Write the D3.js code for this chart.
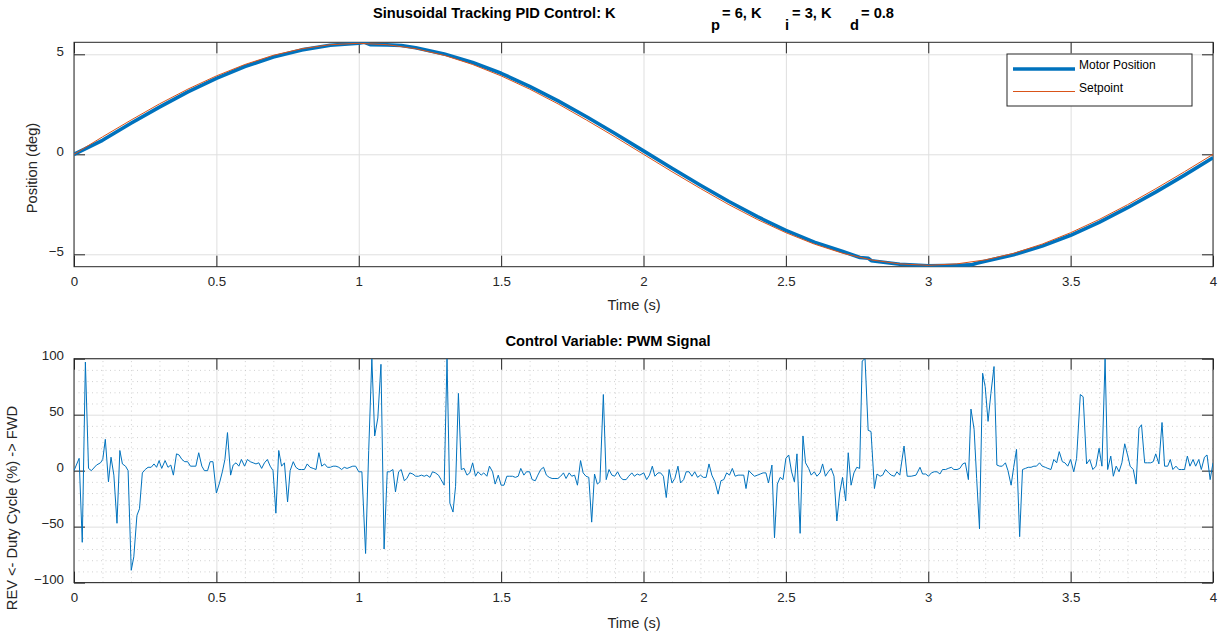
<!DOCTYPE html>
<html>
<head>
<meta charset="utf-8">
<script src="https://cdn.jsdelivr.net/npm/d3@7"></script>
<style>
  body { margin: 0; background: #fff; }
  svg { font-family: "Liberation Sans", Arial, Helvetica, sans-serif; }
</style>
</head>
<body>
<svg id="chart" width="1225" height="636"></svg>
<script>
// tick values / labels
const timeTicks = [0, 0.5, 1, 1.5, 2, 2.5, 3, 3.5, 4];
const timeTickLabels = ["0", "0.5", "1", "1.5", "2", "2.5", "3", "3.5", "4"];
const posTicks = [-5, 0, 5];
const dutyTicks = [-100, -50, 0, 50, 100];
const timeMinor = [0.1, 0.2, 0.3, 0.4, 0.6, 0.7, 0.8, 0.9, 1.1, 1.2, 1.3, 1.4, 1.6, 1.7, 1.8, 1.9,
  2.1, 2.2, 2.3, 2.4, 2.6, 2.7, 2.8, 2.9, 3.1, 3.2, 3.3, 3.4, 3.6, 3.7, 3.8, 3.9];
const dutyMinor = [-90, -80, -70, -60, -40, -30, -20, -10, 10, 20, 30, 40, 60, 70, 80, 90];

// setpoint (deg)
const setpointTime = [0, 0.1, 0.2, 0.3, 0.4, 0.5, 0.6, 0.7, 0.8, 0.9, 1.0, 1.1, 1.2, 1.3, 1.4, 1.5, 1.6, 1.7, 1.8, 1.9,
  2.0, 2.1, 2.2, 2.3, 2.4, 2.5, 2.6, 2.7, 2.8, 2.9, 3.0, 3.1, 3.2, 3.3, 3.4, 3.5, 3.6, 3.7, 3.8, 3.9, 4.0];
const setpointDeg = [0, 0.87, 1.71, 2.52, 3.26, 3.92, 4.49, 4.95, 5.28, 5.48, 5.55, 5.48, 5.28, 4.95, 4.49, 3.92, 3.26, 2.52, 1.71, 0.87,
  0, -0.87, -1.71, -2.52, -3.26, -3.92, -4.49, -4.95, -5.28, -5.48, -5.55, -5.48, -5.28, -4.95, -4.49, -3.92, -3.26, -2.52, -1.71, -0.87, 0];

// measured motor position (deg)
const motorTime = [0, 0.1, 0.2, 0.3, 0.4, 0.5, 0.6, 0.7, 0.8, 0.9, 1.0, 1.02, 1.04, 1.1, 1.15, 1.2, 1.3, 1.4, 1.5, 1.6, 1.7, 1.8, 1.9,
  2.0, 2.1, 2.2, 2.3, 2.4, 2.5, 2.6, 2.7, 2.76, 2.79, 2.8, 2.9, 3.0, 3.1, 3.15, 3.17, 3.2, 3.3, 3.4, 3.5, 3.6, 3.7, 3.8, 3.9, 4.0];
const motorDeg = [0, 0.70, 1.55, 2.36, 3.12, 3.80, 4.39, 4.86, 5.22, 5.45, 5.55, 5.60, 5.48, 5.47, 5.44, 5.33, 5.02, 4.59, 4.05, 3.40, 2.67, 1.88, 1.04,
  0.17, -0.70, -1.55, -2.36, -3.12, -3.80, -4.39, -4.86, -5.16, -5.20, -5.32, -5.50, -5.57, -5.55, -5.53, -5.45, -5.35, -5.02, -4.59, -4.05, -3.40, -2.67, -1.88, -1.04, -0.17];

// PWM duty cycle (%)
const pwmTime = [
  0, 0.018, 0.029, 0.040, 0.051, 0.061, 0.079, 0.093, 0.101, 0.110, 0.121, 0.130, 0.140, 0.151, 0.161, 0.170, 0.181, 0.190,
  0.201, 0.210, 0.221, 0.230, 0.240, 0.250, 0.260, 0.271, 0.281, 0.290, 0.299, 0.308, 0.320, 0.330, 0.340, 0.349, 0.360, 0.369,
  0.379, 0.389, 0.399, 0.409, 0.418, 0.428, 0.438, 0.449, 0.458, 0.469, 0.478, 0.488, 0.500, 0.511, 0.521, 0.530, 0.539, 0.550,
  0.559, 0.569, 0.579, 0.588, 0.599, 0.609, 0.619, 0.629, 0.639, 0.649, 0.659, 0.669, 0.679, 0.689, 0.699, 0.709, 0.719, 0.729,
  0.739, 0.750, 0.759, 0.770, 0.779, 0.790, 0.799, 0.809, 0.819, 0.829, 0.840, 0.850, 0.860, 0.870, 0.880, 0.890, 0.900, 0.910,
  0.920, 0.930, 0.940, 0.949, 0.959, 0.969, 0.979, 0.989,
  1.000, 1.011, 1.024, 1.035, 1.046, 1.056, 1.067, 1.078, 1.089, 1.100, 1.108, 1.120, 1.129, 1.140, 1.149, 1.160, 1.169, 1.179,
  1.190, 1.200, 1.210, 1.220, 1.230, 1.239, 1.250, 1.259, 1.269, 1.280, 1.289, 1.300, 1.310, 1.320, 1.331, 1.340, 1.350, 1.360,
  1.370, 1.380, 1.390, 1.400, 1.410, 1.419, 1.430, 1.439, 1.450, 1.459, 1.470, 1.479, 1.490, 1.500, 1.510, 1.520, 1.530, 1.540,
  1.550, 1.560, 1.569, 1.580, 1.589, 1.600, 1.609, 1.620, 1.629, 1.639, 1.649, 1.659, 1.669, 1.679, 1.689, 1.699, 1.709, 1.719,
  1.728, 1.739, 1.748, 1.758, 1.768, 1.779, 1.788, 1.798, 1.808, 1.818, 1.828, 1.838, 1.847, 1.859, 1.869, 1.879, 1.889, 1.899,
  1.909, 1.919, 1.928, 1.939, 1.948, 1.959, 1.968, 1.978, 1.987,
  2.001, 2.011, 2.021, 2.031, 2.040, 2.051, 2.060, 2.070, 2.080, 2.090, 2.100, 2.110, 2.121, 2.130, 2.141, 2.150, 2.160, 2.170,
  2.180, 2.190, 2.200, 2.210, 2.220, 2.230, 2.240, 2.251, 2.262, 2.272, 2.282, 2.292, 2.302, 2.312, 2.322, 2.332, 2.342, 2.352,
  2.360, 2.370, 2.381, 2.390, 2.401, 2.410, 2.420, 2.430, 2.439, 2.451, 2.460, 2.470, 2.480, 2.490, 2.500, 2.510, 2.520, 2.530,
  2.539, 2.550, 2.560, 2.569, 2.580, 2.589, 2.600, 2.609, 2.620, 2.629, 2.639, 2.649, 2.659, 2.669, 2.679, 2.689, 2.699, 2.710,
  2.719, 2.729, 2.739, 2.749, 2.759, 2.768, 2.778, 2.789, 2.799, 2.811, 2.820, 2.831, 2.840, 2.850, 2.861, 2.870, 2.881, 2.890,
  2.900,
  2.915, 2.926, 2.940, 2.957, 2.971, 2.980, 2.991, 3.001, 3.011, 3.021, 3.031, 3.041, 3.050, 3.061, 3.070, 3.081, 3.090, 3.101,
  3.111, 3.121, 3.130, 3.141, 3.150, 3.161, 3.170, 3.180, 3.191, 3.200, 3.210, 3.220, 3.231, 3.241, 3.251, 3.260, 3.271, 3.280,
  3.291, 3.300, 3.310, 3.321, 3.331, 3.341, 3.351, 3.361, 3.371, 3.380, 3.391, 3.400, 3.411, 3.420, 3.431, 3.441, 3.451, 3.460,
  3.471, 3.480, 3.490, 3.500, 3.511, 3.521, 3.534, 3.544, 3.556, 3.567, 3.578, 3.589, 3.600, 3.610, 3.621, 3.630, 3.641, 3.650,
  3.660, 3.670, 3.680, 3.690, 3.700, 3.709, 3.720, 3.730, 3.740, 3.749, 3.760, 3.770, 3.781, 3.790, 3.799, 3.810, 3.821, 3.830,
  3.841, 3.850, 3.859, 3.870, 3.880, 3.890, 3.900, 3.910, 3.919, 3.930, 3.939, 3.950, 3.959, 3.970, 3.979, 3.990, 4.000];
const pwmDuty = [
  0, 11, -64, 97, 2, 0, 5, 7, 10, 28, -10, 12, -4, -47, 18, 6, 4, 0,
  -89, -77, -40, -34, -2, 1, 3, 3, 6, 3, 9, 2, 9, 3, 5, -4, 15, 14,
  10, 8, 8, 4, 4, 4, 16, 4, 0, 0, 8, 8, -20, -11, -1, 10, 34, -4,
  5, 7, 4, 10, 4, 10, 8, 7, 6, 7, 2, 7, 10, 4, 0, -38, 18, 4,
  7, -28, 0, 8, 3, 1, 1, 1, 6, 3, 2, 1, 16, 4, 6, 3, 3, 4,
  4, 3, 1, 3, 2, 3, 4, 4,
  -1, -1, -74, 18, 100, 31, 47, 95, -70, -1, -1, 1, -19, -1, 1, -9, -7, -2,
  -3, -5, -5, -4, -5, -4, -6, -1, -2, -4, -8, -13, 100, -29, -37, -14, 69, 1,
  2, -4, -2, 7, -5, -1, -4, -2, -5, 4, -1, -12, -4, -13, -13, -5, -5, -5,
  -6, -5, 2, -4, -1, -1, -8, -9, -4, 1, 3, -4, -6, -7, -7, -7, -5, -2,
  -7, -2, -5, -4, -13, 9, -2, -5, -6, -46, -3, -12, -10, 68, -8, 1, -4, -5,
  -1, -6, -8, -8, -5, -2, -5, -3, -4,
  -2, -8, -4, 4, -5, -2, -2, -5, -24, 1, -11, -7, 4, -11, -8, -1, -1, -5,
  -1, -6, -4, -6, -6, 6, -4, -10, -21, -9, -8, -2, -4, 2, -5, -4, -4, -4,
  -16, 0, -3, -5, -4, -3, -2, -2, -11, 5, -60, -12, -6, -8, 11, 14, -1, -10,
  15, -56, 31, 7, 2, -4, -1, -5, -2, 6, -5, -1, 2, -5, -45, -20, -6, -27,
  16, -13, -2, 3, 2, 98, 100, 36, 35, -16, -3, -5, -4, 1, -2, -4, -5, -1,
  -4,
  22, -5, -5, -4, 3, -3, -3, -5, -2, -1, -1, -3, 1, 1, 2, 3, 1, 1,
  2, 6, 7, -8, 55, 37, -7, -52, 87, 75, 44, 69, 93, 5, 4, 4, 7, 0,
  -13, 3, 19, -59, 1, 2, 3, 3, 4, 4, 7, 4, 3, 2, 1, 10, 7, 17,
  8, 7, 4, 10, -1, 11, 68, 66, 6, 10, 1, 4, 20, 4, 100, 1, 13, -5,
  4, -1, 7, 24, 14, 4, 1, -12, 38, 41, 7, 7, 7, 8, 15, 6, 43, 4,
  4, 10, 1, 4, 1, 1, 1, 13, 4, 10, 4, 10, 1, 12, 14, -8, 7];

const seriesNames = ["Motor Position", "Setpoint"];
const blue = "#0072BD", orange = "#D95319", axisCol = "#262626";

const svg = d3.select("#chart");
svg.append("rect").attr("width", 1225).attr("height", 636).attr("fill", "#fff");

const left = 74, right = 1213;
const top1 = 42.3, bot1 = 266.7, top2 = 358.7, bot2 = 582.6;

const x = d3.scaleLinear().domain([0, 4]).range([left, right]);
const yPos = d3.scaleLinear().domain([-5.62, 5.6]).range([bot1, top1]);
const yDuty = d3.scaleLinear().domain([-100, 100]).range([bot2, top2]);

const defs = svg.append("defs");
defs.append("clipPath").attr("id", "clip1").append("rect")
  .attr("x", left).attr("y", top1).attr("width", right - left).attr("height", bot1 - top1);
defs.append("clipPath").attr("id", "clip2").append("rect")
  .attr("x", left).attr("y", top2).attr("width", right - left).attr("height", bot2 - top2);

function gridLayer(yScale, yTicks, top, bot, minor) {
  const g = svg.append("g");
  if (minor) {
    g.append("g").attr("transform", `translate(0,${bot})`)
      .call(d3.axisBottom(x).tickValues(timeMinor).tickSize(-(bot - top)).tickFormat(""))
      .call(s => s.select(".domain").remove())
      .selectAll("line").attr("stroke", "#c4c4c4").attr("stroke-dasharray", "1,3.5").attr("stroke-width", 0.8);
    g.append("g").attr("transform", `translate(${left},0)`)
      .call(d3.axisLeft(yScale).tickValues(dutyMinor).tickSize(-(right - left)).tickFormat(""))
      .call(s => s.select(".domain").remove())
      .selectAll("line").attr("stroke", "#c4c4c4").attr("stroke-dasharray", "1,3.5").attr("stroke-width", 0.8);
  }
  g.append("g").attr("transform", `translate(0,${bot})`)
    .call(d3.axisBottom(x).tickValues(timeTicks).tickSize(-(bot - top)).tickFormat(""))
    .call(s => s.select(".domain").remove())
    .selectAll("line").attr("stroke", "#dfdfdf");
  g.append("g").attr("transform", `translate(${left},0)`)
    .call(d3.axisLeft(yScale).tickValues(yTicks).tickSize(-(right - left)).tickFormat(""))
    .call(s => s.select(".domain").remove())
    .selectAll("line").attr("stroke", "#dfdfdf");
}

function axesFrame(yScale, yTicks, top, bot) {
  const tl = 11;
  const styleText = s => s.selectAll("text").attr("fill", axisCol).attr("font-size", "13.3px")
    .attr("font-family", "'Liberation Sans', Arial, Helvetica, sans-serif");
  svg.append("g").attr("transform", `translate(0,${bot})`)
    .call(d3.axisBottom(x).tickValues(timeTicks).tickSize(-tl).tickPadding(10)
      .tickFormat((d, i) => timeTickLabels[i]))
    .call(s => s.select(".domain").remove())
    .call(s => s.selectAll("line").attr("stroke", axisCol))
    .call(styleText);
  svg.append("g").attr("transform", `translate(0,${top})`)
    .call(d3.axisTop(x).tickValues(timeTicks).tickSize(-tl).tickFormat(""))
    .call(s => s.select(".domain").remove())
    .selectAll("line").attr("stroke", axisCol);
  svg.append("g").attr("transform", `translate(${left},0)`)
    .call(d3.axisLeft(yScale).tickValues(yTicks).tickSize(-tl).tickPadding(10).tickFormat(d3.format("d")))
    .call(s => s.select(".domain").remove())
    .call(s => s.selectAll("line").attr("stroke", axisCol))
    .call(styleText)
    .call(s => s.selectAll("text").attr("dy", "0.06em"));
  svg.append("g").attr("transform", `translate(${right},0)`)
    .call(d3.axisRight(yScale).tickValues(yTicks).tickSize(-tl).tickFormat(""))
    .call(s => s.select(".domain").remove())
    .selectAll("line").attr("stroke", axisCol);
  svg.append("rect").attr("x", left).attr("y", top).attr("width", right - left).attr("height", bot - top)
    .attr("fill", "none").attr("stroke", axisCol).attr("stroke-width", 1);
}

// ---- top: position tracking ----
gridLayer(yPos, posTicks, top1, bot1, false);
axesFrame(yPos, posTicks, top1, bot1);

const posLine = d3.line().x(d => x(d[0])).y(d => yPos(d[1]));
const plot1 = svg.append("g").attr("clip-path", "url(#clip1)");
plot1.append("path").datum(d3.zip(motorTime, motorDeg)).attr("d", posLine)
  .attr("fill", "none").attr("stroke", blue).attr("stroke-width", 3.6).attr("stroke-linejoin", "round");
plot1.append("path").datum(d3.zip(setpointTime, setpointDeg)).attr("d", posLine)
  .attr("fill", "none").attr("stroke", orange).attr("stroke-width", 1);

// legend
const lg = svg.append("g");
lg.append("rect").attr("x", 1007).attr("y", 54).attr("width", 185).attr("height", 52)
  .attr("fill", "#fff").attr("stroke", axisCol).attr("stroke-width", 1);
const legY = [69, 91.5], legText = [68.5, 92];
seriesNames.forEach((name, i) => {
  lg.append("line").attr("x1", 1013).attr("x2", 1075).attr("y1", legY[i]).attr("y2", legY[i])
    .attr("stroke", i === 0 ? blue : orange).attr("stroke-width", i === 0 ? 3.6 : 1);
  lg.append("text").attr("x", 1079).attr("y", legText[i]).attr("font-size", "12px").attr("fill", "#000").text(name);
});

// title with subscripts
const title = svg.append("g").attr("font-weight", "bold").attr("font-size", "14.67px").attr("fill", "#000");
title.append("text").attr("x", 373).attr("y", 17.5).text("Sinusoidal Tracking PID Control: K");
[["p", 711, 30], ["= 6, K", 722, 17.5], ["i", 785, 30], ["= 3, K", 792, 17.5], ["d", 850, 30], ["= 0.8", 861, 17.5]]
  .forEach(t => title.append("text").attr("x", t[1]).attr("y", t[2]).text(t[0]));

svg.append("text").attr("x", 634).attr("y", 310).attr("text-anchor", "middle")
  .attr("font-size", "14.67px").attr("fill", axisCol).text("Time (s)");
svg.append("text").attr("transform", "translate(37,168) rotate(-90)").attr("text-anchor", "middle")
  .attr("font-size", "14.67px").attr("fill", axisCol).text("Position (deg)");

// ---- bottom: PWM ----
gridLayer(yDuty, dutyTicks, top2, bot2, true);
axesFrame(yDuty, dutyTicks, top2, bot2);

const dutyLine = d3.line().x(d => x(d[0])).y(d => yDuty(d[1]));
svg.append("g").attr("clip-path", "url(#clip2)")
  .append("path").datum(d3.zip(pwmTime, pwmDuty)).attr("d", dutyLine)
  .attr("fill", "none").attr("stroke", blue).attr("stroke-width", 1);

svg.append("text").attr("x", 608).attr("y", 346).attr("text-anchor", "middle")
  .attr("font-weight", "bold").attr("font-size", "14.67px").attr("fill", "#000").text("Control Variable: PWM Signal");
svg.append("text").attr("x", 634).attr("y", 628).attr("text-anchor", "middle")
  .attr("font-size", "14.67px").attr("fill", axisCol).text("Time (s)");
svg.append("text").attr("transform", "translate(17,508) rotate(-90)").attr("text-anchor", "middle")
  .attr("font-size", "14.67px").attr("fill", axisCol).text("REV <- Duty Cycle (%) -> FWD");
</script>
</body>
</html>
